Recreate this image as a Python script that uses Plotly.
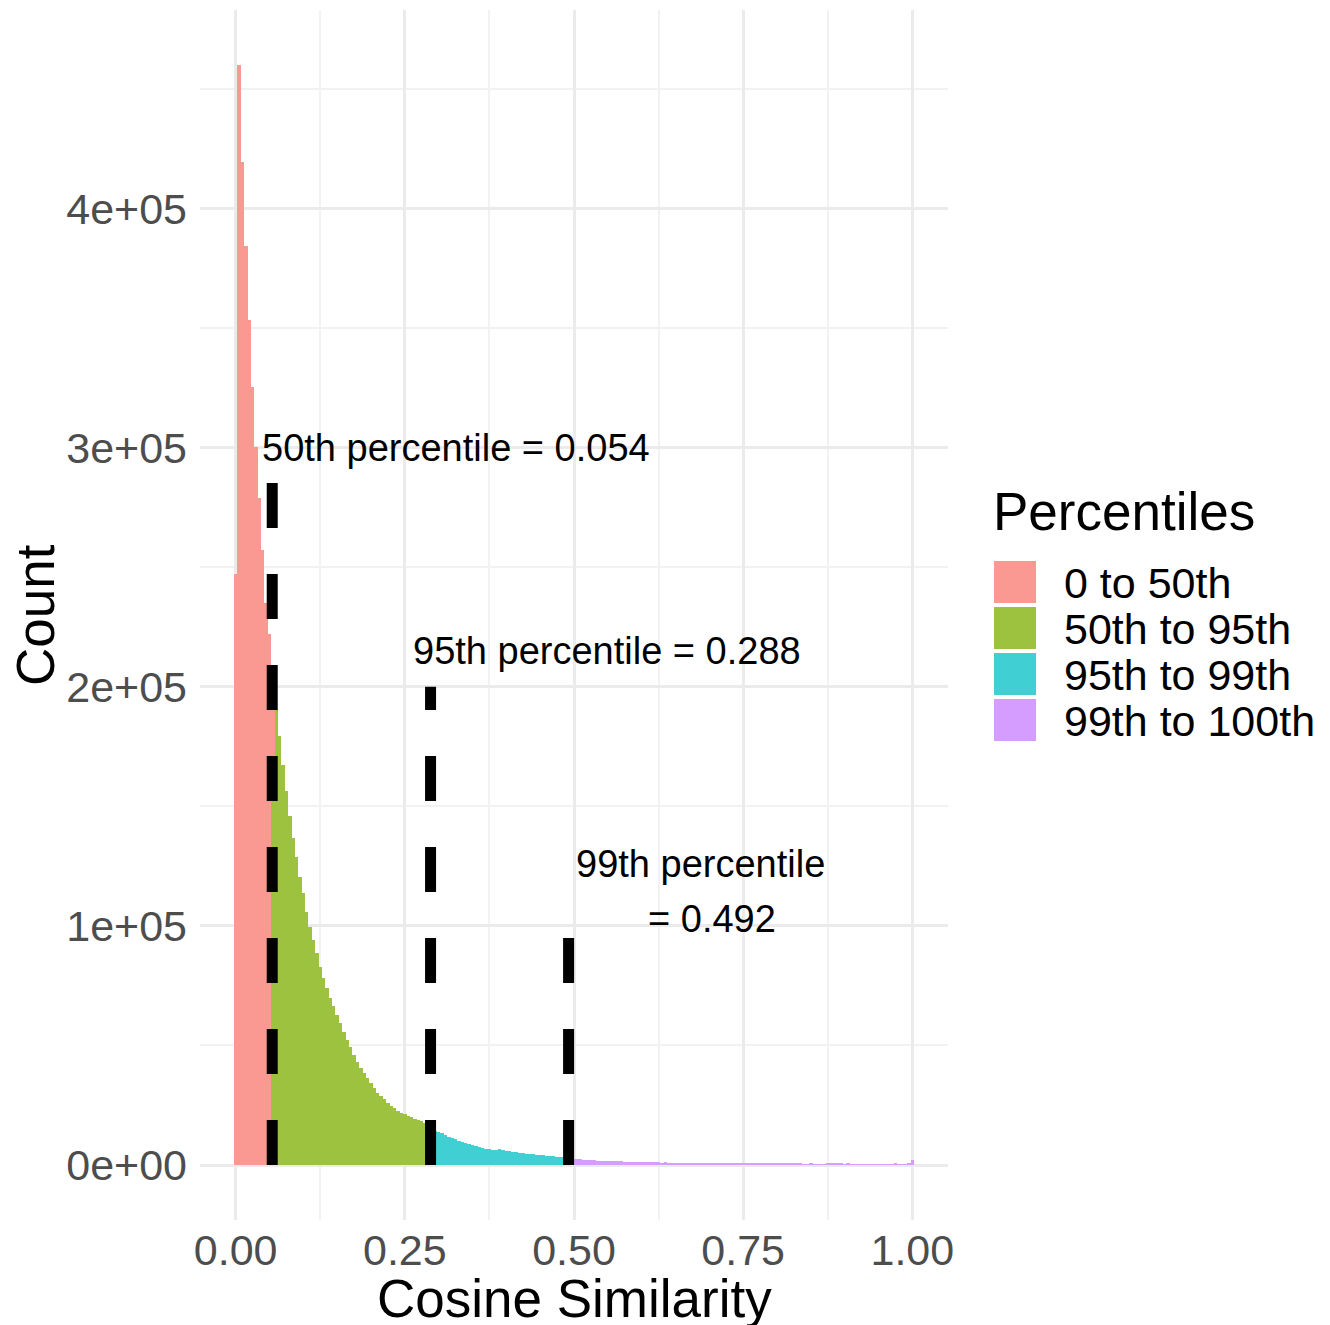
import plotly.graph_objects as go

# ---------------- data ----------------
BIN_WIDTH = 0.005

# counts per histogram bin (bins centred on multiples of 0.005)
RED_START = 0.0
RED_COUNTS = [247000, 460000, 419500, 384500, 353500, 325400, 300300, 279000, 257000, 235000,
              222000, 45000]

GREEN_START = 0.055
GREEN_COUNTS = [160000, 190500, 179200, 167400, 156200, 146000, 136700, 129000, 120600, 113700,
                106000, 99700, 94100, 88600, 83000, 78100, 73900, 69800, 66400, 62800,
                59300, 55800, 52300, 49500, 46000, 43200, 40400, 38400, 36300, 34200,
                32100, 30300, 28900, 27500, 26100, 24800, 23700, 22700, 21900, 21200,
                20500, 19900, 19400, 18800, 18300, 17700, 17200]

CYAN_START = 0.29
CYAN_COUNTS = [15000, 14400, 13950, 13250, 12550, 11600, 11160, 10740, 10180, 9770,
               9350, 8930, 8500, 8090, 7670, 7250, 6840, 6560, 6280, 6200,
               6500, 6140, 6000, 5720, 5440, 5300, 5020, 4880, 4740, 4600,
               4460, 4320, 4190, 4050, 3900, 3770, 3630, 3490, 3350, 3200,
               3100]

PURPLE_START = 0.495
PURPLE_COUNTS = [2600, 2500, 2400, 2350, 2300, 2200, 2000, 1900, 1850, 1750,
                 1700, 1650, 1600, 1550, 1500, 1480, 1450, 1400, 1350, 1300,
                 1280, 1230, 1200, 1150, 1120, 1100, 1050, 1000, 1200, 1000,
                 950, 920, 900, 880, 860, 850, 830, 820, 800, 790,
                 770, 760, 800, 740, 720, 710, 700, 690, 680, 670,
                 660, 650, 640, 630, 620, 610, 600, 590, 580, 570,
                 560, 550, 540, 450, 530, 520, 520, 510, 500, 420,
                 380, 480, 400, 380, 390, 400, 470, 460, 460, 450,
                 450, 380, 430, 420, 380, 360, 420, 370, 350, 360,
                 400, 350, 340, 330, 340, 320, 450, 330, 320, 330,
                 480, 2300]

GROUP_NAMES = ["0 to 50th", "50th to 95th", "95th to 99th", "99th to 100th"]
GROUP_COLORS = ["rgb(250,152,146)", "rgb(157,194,64)", "rgb(64,207,211)", "rgb(213,157,255)"]

PCT_VALUES = [0.054, 0.288, 0.492]
PCT_LINE_TOPS = [290000, 200000, 100000]

LABEL_TEXTS = ["50th percentile = 0.054", "95th percentile = 0.288", "99th percentile", "= 0.492"]
LABEL_X = [0.325, 0.5495, 0.6875, 0.7037]
LABEL_Y = [300000, 215000, 126000, 103000]

X_TICKS = [0.0, 0.25, 0.5, 0.75, 1.0]
X_TICK_LABELS = ["0.00", "0.25", "0.50", "0.75", "1.00"]
Y_TICKS = [0, 100000, 200000, 300000, 400000]
Y_TICK_LABELS = ["0e+00", "1e+05", "2e+05", "3e+05", "4e+05"]

# ---------------- figure ----------------
OFF = 8  # page body margin in the browser
W, H = 1330 - OFF, 1325 - OFF
L, R, T, B = 200 - OFF, 948 - OFF, 10 - OFF, 1220 - OFF  # panel in figure pixels
FONT = "Liberation Sans, Arial, Helvetica, sans-serif"


def centres(start, n):
    return [round(start + k * BIN_WIDTH, 4) for k in range(n)]


def px_x(px):  # screen pixel -> paper
    return (px - OFF - L) / (R - L)


def px_y(py):
    return (B - (py - OFF)) / (B - T)


fig = go.Figure()
# green first so that the red part of the shared bin stacks on top (ggplot order)
series = [
    (GREEN_START, GREEN_COUNTS, 1),
    (RED_START, RED_COUNTS, 0),
    (CYAN_START, CYAN_COUNTS, 2),
    (PURPLE_START, PURPLE_COUNTS, 3),
]
for start, counts, gi in series:
    fig.add_trace(go.Bar(
        x=centres(start, len(counts)), y=counts, width=BIN_WIDTH,
        name=GROUP_NAMES[gi], marker=dict(color=GROUP_COLORS[gi], line=dict(width=0)),
        showlegend=False, hoverinfo="x+y",
    ))

for p, top in zip(PCT_VALUES, PCT_LINE_TOPS):
    fig.add_trace(go.Scatter(
        x=[p, p], y=[0, top], mode="lines",
        line=dict(color="black", width=11, dash="45px,46px"),
        showlegend=False, hoverinfo="skip",
    ))

annotations = []
for txt, x, y in zip(LABEL_TEXTS, LABEL_X, LABEL_Y):
    annotations.append(dict(x=x, y=y, xref="x", yref="y", text=txt, showarrow=False,
                            xanchor="center", yanchor="middle",
                            font=dict(family=FONT, size=38, color="black")))

# axis titles
annotations.append(dict(x=px_x(574), y=px_y(1298), xref="paper", yref="paper",
                        text="Cosine Similarity", showarrow=False,
                        xanchor="center", yanchor="middle",
                        font=dict(family=FONT, size=53, color="black")))
annotations.append(dict(x=px_x(35), y=px_y(615), xref="paper", yref="paper",
                        text="Count", showarrow=False, textangle=-90,
                        xanchor="center", yanchor="middle",
                        font=dict(family=FONT, size=53, color="black")))

# manual legend (ggplot-sized keys)
annotations.append(dict(x=px_x(991), y=px_y(511), xref="paper", yref="paper", text="Percentiles",
                        showarrow=False, xanchor="left", yanchor="middle",
                        font=dict(family=FONT, size=53, color="black")))
shapes = []
key_tops = [561, 607, 653, 699]
for i, (name, col) in enumerate(zip(GROUP_NAMES, GROUP_COLORS)):
    y0 = key_tops[i]
    shapes.append(dict(type="rect", xref="paper", yref="paper",
                       x0=px_x(994), x1=px_x(1036), y0=px_y(y0 + 42), y1=px_y(y0),
                       fillcolor=col, line=dict(width=0)))
    annotations.append(dict(x=px_x(1062), y=px_y(y0 + 22), xref="paper", yref="paper", text=name,
                            showarrow=False, xanchor="left", yanchor="middle",
                            font=dict(family=FONT, size=43, color="black")))

fig.update_layout(
    width=W, height=H, autosize=False,
    margin=dict(l=L, r=W - R, t=T, b=H - B, pad=0),
    paper_bgcolor="white", plot_bgcolor="white",
    barmode="stack", bargap=0,
    showlegend=False,
    font=dict(family=FONT),
    annotations=annotations,
    shapes=shapes,
)
fig.update_xaxes(
    range=[-0.05275, 1.05275], tickvals=X_TICKS, ticktext=X_TICK_LABELS,
    tickfont=dict(family=FONT, size=43, color="#4D4D4D"),
    showgrid=True, gridcolor="#EBEBEB", gridwidth=2.5, zeroline=False, showline=False,
    ticks="", ticklabelstandoff=1,
    minor=dict(tickvals=[0.125, 0.375, 0.625, 0.875], showgrid=True, gridcolor="#F2F2F2", gridwidth=1.5),
)
fig.update_yaxes(
    range=[-23000, 483000], tickvals=Y_TICKS, ticktext=Y_TICK_LABELS,
    tickfont=dict(family=FONT, size=43, color="#4D4D4D"),
    showgrid=True, gridcolor="#EBEBEB", gridwidth=2.5, zeroline=False, showline=False,
    ticks="", ticklabelstandoff=12,
    minor=dict(tickvals=[50000, 150000, 250000, 350000, 450000], showgrid=True,
               gridcolor="#F2F2F2", gridwidth=1.5),
)

fig.write_html("out.html")
